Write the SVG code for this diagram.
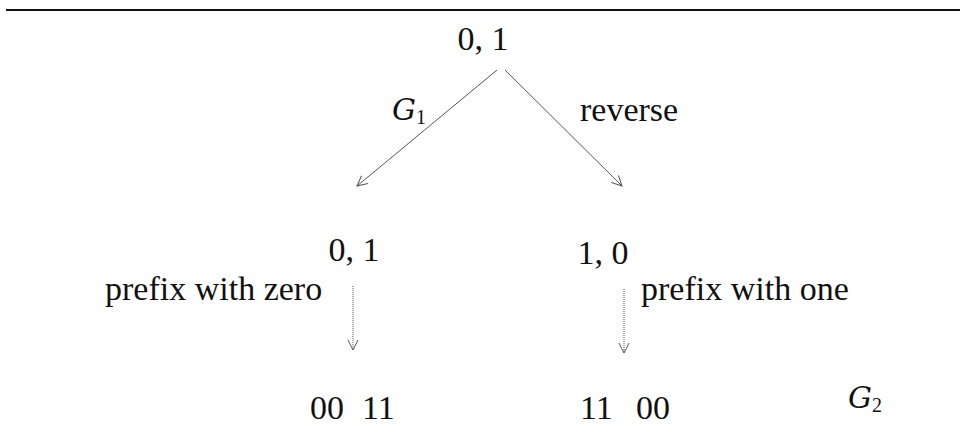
<svg xmlns="http://www.w3.org/2000/svg" width="965" height="440" viewBox="0 0 965 440">
<style>
text{font-family:"Liberation Serif","Times New Roman",serif;font-size:34px;fill:#111}
.cal{font-family:"DejaVu Serif","Liberation Serif",serif;font-style:italic;font-size:30px}
.sub{font-size:20px}
.conn line{stroke:#555;stroke-width:1}
.dot{stroke-dasharray:1 1}
</style>
<defs>
<marker id="ah" viewBox="0 0 12 12" refX="11" refY="6" markerWidth="12" markerHeight="12" markerUnits="userSpaceOnUse" orient="auto">
<path d="M1,1 L11,6 L1,11" fill="none" stroke="#555" stroke-width="1"/>
</marker>
</defs>
<rect width="965" height="440" fill="#fff"/>
<line x1="6" y1="10" x2="960" y2="10" stroke="#111" stroke-width="2"/>
<g class="conn">
<line x1="497" y1="70" x2="357" y2="186" marker-end="url(#ah)"/>
<line x1="505" y1="70" x2="622" y2="186" marker-end="url(#ah)"/>
<line class="dot" x1="353" y1="286" x2="353" y2="350" marker-end="url(#ah)"/>
<line class="dot" x1="624" y1="289" x2="624" y2="353" marker-end="url(#ah)"/>
</g>
<g id="n-root"><text x="483" y="50" text-anchor="middle">0, 1</text></g>
<g id="lbl-g1"><text x="392" y="120" class="cal">G<tspan class="sub" font-style="normal" font-family="Liberation Serif" dy="4">1</tspan></text></g>
<g id="lbl-rev"><text x="580" y="121">reverse</text></g>
<g id="n-left"><text x="354" y="261" text-anchor="middle">0, 1</text></g>
<g id="n-right"><text x="603" y="264" text-anchor="middle">1, 0</text></g>
<g id="lbl-zero"><text x="105" y="300">prefix with zero</text></g>
<g id="lbl-one"><text x="641" y="300">prefix with one</text></g>
<g id="n-bl"><text x="310" y="419">00</text><text x="362" y="419">11</text></g>
<g id="n-br"><text x="580" y="419">11</text><text x="636" y="419">00</text></g>
<g id="lbl-g2"><text x="848" y="408" class="cal">G<tspan class="sub" font-style="normal" font-family="Liberation Serif" dy="4">2</tspan></text></g>
</svg>
